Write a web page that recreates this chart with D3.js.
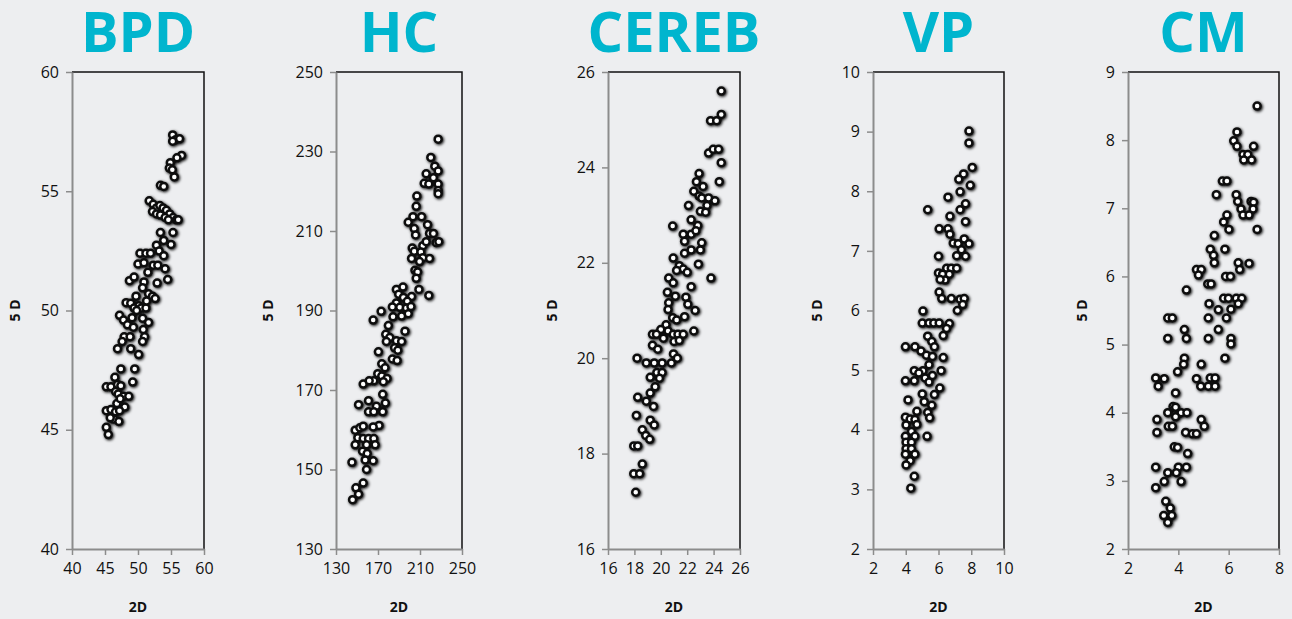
<!DOCTYPE html>
<html lang="en">
<head>
<meta charset="UTF-8">
<title>2D vs 5D measurements</title>
<script src="https://d3js.org/d3.v7.min.js"></script>
<style>
    body { margin: 0; background: #edeef0; font-family: "Open Sans", Arial, sans-serif; }
    .title { font-size: 56px; font-weight: bold; fill: #00b5ce; text-anchor: middle; }
    .tick text { font-family: "Open Sans", Arial, sans-serif; font-size: 16px; fill: #111; }
    .axis-label { font-size: 14px; font-weight: bold; fill: #111; text-anchor: middle; }
</style>
</head>
<body>
<script>
    // BPD
    const bpdX = [55.25, 55.7, 56.3, 55.25, 56.6, 55.9, 54.9, 54.75, 55.2, 55.5, 53.4, 53.9, 51.7, 52.3, 52.8, 53.3, 53.8, 54.3, 54.8, 55.3, 55.8, 56.1,
        52.2, 52.8, 53.4, 54.1, 54.6, 53.4, 55.3, 52.8, 53.9, 55.0, 53.2, 53.9, 50.3, 51.2, 51.9, 50.0, 50.9, 52.3, 51.5, 54.1, 53.0, 48.7, 49.4, 50.9,
        52.9, 54.5, 50.7, 51.6, 52.2, 52.6, 48.2, 48.9, 49.7, 50.1, 50.5, 51.2, 49.4, 47.2, 47.8, 48.4, 49.1, 50.7, 51.6, 50.8, 47.9, 48.8, 51.0, 46.9,
        47.6, 48.9, 50.7, 50.1, 47.4, 49.5, 49.2, 46.5, 45.2, 45.9, 46.9, 47.4, 46.6, 47.0, 47.8, 48.6, 46.8, 48.0, 45.2, 45.9, 46.6, 47.2, 46.3, 47.1,
        45.2, 45.5, 45.8, 47.3, 49.8, 51.3, 49.3];
    const bpdY = [57.36, 57.16, 57.2, 57.1, 56.5, 56.4, 56.2, 55.97, 55.9, 55.6, 55.25, 55.2, 54.6, 54.45, 54.3, 54.4, 54.3, 54.2, 54.05, 53.9, 53.8, 53.8,
        54.15, 54.05, 54.0, 53.9, 53.8, 53.27, 53.27, 52.74, 52.94, 52.77, 52.5, 52.3, 52.4, 52.4, 52.4, 51.95, 52.0, 51.9, 51.6, 51.75, 51.9, 51.25, 51.4, 51.2,
        51.15, 51.3, 50.95, 50.7, 50.6, 50.5, 50.33, 50.3, 50.6, 50.2, 50.1, 50.1, 50.1, 49.8, 49.6, 49.4, 49.7, 49.67, 49.5, 49.2, 48.9, 48.9, 48.9, 48.4,
        48.7, 48.4, 48.7, 48.15, 47.55, 47.55, 47.0, 47.2, 46.8, 46.8, 46.9, 46.85, 46.6, 46.5, 46.4, 46.4, 46.1, 45.95, 45.8, 45.85, 45.75, 45.8, 45.45, 45.35,
        45.1, 44.8, 45.5, 46.3, 50.0, 50.4, 49.3];

    // HC
    const hcX = [227.3, 220.3, 215.9, 224.1, 227.3, 222.8, 214.0, 218.4, 227.3, 227.3, 227.3, 207.0, 206.4, 203.3, 211.5, 198.8, 204.5, 205.8, 217.2, 219.1,
        222.8, 225.4, 227.9, 212.7, 215.9, 202.6, 204.5, 202.0, 210.8, 212.7, 219.1, 209.6, 205.2, 207.7, 206.4, 209.0, 218.4, 202.0, 187.5, 193.8, 189.7,
        194.2, 197.9, 187.5, 190.7, 197.0, 201.4, 183.7, 192.5, 198.8, 184.3, 173.0, 165.4, 179.9, 195.7, 177.4, 181.2, 187.5, 192.5, 178.0, 185.8, 188.9,
        170.4, 183.7, 188.2, 173.6, 176.7, 169.8, 173.6, 178.6, 166.0, 155.9, 161.6, 175.1, 174.5, 177.0, 161.0, 151.5, 168.5, 174.5, 161.0, 166.0, 171.0,
        165.4, 148.3, 152.7, 155.9, 150.8, 155.9, 161.0, 166.0, 159.1, 167.3, 148.3, 155.3, 159.7, 157.8, 165.4, 145.2, 159.1, 155.9, 149.0, 151.5, 145.8];
    const hcY = [233.1, 228.5, 224.4, 226.3, 225.1, 223.4, 222.0, 221.8, 221.8, 220.2, 219.4, 218.8, 216.2, 213.6, 213.6, 212.2, 210.6, 209.0, 211.6, 209.4,
        209.4, 207.1, 207.3, 206.3, 207.3, 205.7, 204.9, 203.1, 204.7, 203.3, 203.1, 202.3, 200.1, 199.7, 198.1, 195.3, 193.8, 193.5, 195.3, 195.9, 194.1,
        193.3, 192.3, 191.9, 190.8, 190.6, 191.0, 190.9, 188.6, 189.2, 188.4, 189.8, 187.6, 186.2, 184.8, 184.0, 183.2, 182.4, 182.2, 182.2, 180.6, 180.0,
        179.6, 177.8, 177.4, 176.6, 175.6, 174.1, 173.5, 172.9, 172.3, 171.5, 172.3, 172.1, 168.9, 166.7, 167.3, 166.3, 165.9, 164.5, 164.5, 164.5, 161.1,
        160.7, 159.9, 160.5, 160.9, 158.0, 157.8, 157.8, 157.8, 156.2, 156.2, 156.2, 154.6, 154.0, 152.4, 152.2, 151.8, 150.0, 146.6, 145.4, 143.8, 142.4];

    // CEREB
    const cerebX = [24.58, 24.58, 23.77, 24.23, 23.62, 23.97, 24.38, 24.58, 24.43, 22.9, 22.7, 23.2, 22.5, 22.9, 23.1, 23.62, 22.1, 23.5, 24.1, 23.0, 23.4,
        22.3, 20.9, 22.8, 21.7, 22.3, 22.66, 21.8, 23.1, 22.3, 23.0, 20.94, 21.8, 22.85, 21.4, 21.7, 21.2, 22.0, 20.6, 20.94, 22.3, 23.8, 20.5, 21.1, 21.9,
        22.05, 20.6, 22.6, 20.55, 20.9, 21.8, 21.2, 20.4, 20.0, 20.55, 22.5, 20.94, 21.3, 21.7, 19.37, 19.67, 20.2, 21.0, 21.4, 19.37, 19.77, 20.96, 21.25,
        20.8, 18.2, 18.9, 19.5, 20.1, 19.7, 20.1, 19.2, 19.9, 19.57, 19.2, 18.25, 18.9, 19.45, 18.15, 19.2, 19.5, 18.6, 18.86, 19.16, 17.95, 18.25, 18.6,
        17.95, 18.4, 18.1];
    const cerebY = [25.6, 25.11, 24.98, 24.98, 24.3, 24.38, 24.38, 24.1, 23.7, 23.87, 23.7, 23.6, 23.5, 23.4, 23.36, 23.36, 23.2, 23.2, 23.3, 23.08, 23.06,
        22.9, 22.77, 22.78, 22.6, 22.6, 22.67, 22.45, 22.42, 22.27, 22.27, 22.1, 22.2, 21.97, 21.94, 21.87, 21.84, 21.8, 21.68, 21.58, 21.5, 21.68, 21.38,
        21.3, 21.28, 21.13, 21.16, 21.0, 21.02, 20.85, 20.87, 20.8, 20.7, 20.6, 20.57, 20.57, 20.5, 20.5, 20.5, 20.5, 20.5, 20.42, 20.35, 20.37, 20.27,
        20.19, 20.09, 20.0, 19.9, 20.0, 19.9, 19.9, 19.9, 19.7, 19.7, 19.6, 19.58, 19.4, 19.27, 19.18, 19.1, 18.99, 18.8, 18.7, 18.6, 18.5, 18.38, 18.3,
        18.16, 18.16, 17.78, 17.58, 17.58, 17.19];

    // VP
    const vpX = [7.86, 7.86, 8.06, 7.53, 7.24, 7.94, 7.32, 6.58, 5.34, 7.65, 7.32, 6.7, 7.65, 6.04, 6.58, 6.7, 7.57, 6.9, 7.2, 7.86, 7.4, 7.11, 6.0, 7.65,
        6.5, 6.78, 7.11, 6.0, 6.25, 6.66, 6.4, 6.1, 6.04, 6.2, 6.78, 7.32, 7.57, 7.48, 7.15, 5.05, 5.01, 5.42, 5.71, 6.04, 6.66, 6.49, 6.29, 5.34, 5.59,
        5.75, 3.98, 4.56, 4.93, 5.26, 5.63, 6.29, 4.52, 5.42, 6.16, 5.05, 3.98, 4.52, 5.18, 5.42, 5.63, 4.8, 6.08, 5.75, 5.01, 4.14, 5.13, 5.59, 5.34,
        5.46, 4.68, 3.98, 4.27, 4.56, 4.68, 4.02, 4.35, 3.98, 4.56, 5.3, 4.02, 4.35, 4.02, 4.35, 3.98, 4.56, 4.27, 4.02, 4.52, 4.31];
    const vpY = [9.01, 8.81, 8.4, 8.29, 8.2, 8.1, 7.99, 7.9, 7.69, 7.79, 7.69, 7.58, 7.49, 7.37, 7.37, 7.28, 7.2, 7.13, 7.12, 7.12, 7.02, 6.92, 6.91, 6.91,
        6.71, 6.71, 6.71, 6.63, 6.61, 6.61, 6.51, 6.52, 6.31, 6.2, 6.2, 6.19, 6.2, 6.1, 6.0, 5.99, 5.79, 5.79, 5.79, 5.79, 5.78, 5.7, 5.58, 5.57, 5.48,
        5.39, 5.39, 5.39, 5.32, 5.25, 5.23, 5.21, 4.99, 5.09, 4.99, 4.99, 4.82, 4.82, 4.87, 4.8, 4.91, 4.95, 4.7, 4.59, 4.6, 4.5, 4.47, 4.41, 4.29,
        4.2, 4.31, 4.21, 4.18, 4.17, 4.09, 4.08, 3.97, 3.89, 3.89, 3.89, 3.79, 3.79, 3.68, 3.68, 3.59, 3.59, 3.48, 3.41, 3.22, 3.02];

    // CM
    const cmX = [7.13, 6.33, 6.2, 6.33, 6.99, 6.57, 6.76, 6.6, 6.91, 5.75, 5.93, 5.51, 6.3, 6.36, 6.89, 6.99, 6.49, 6.97, 6.57, 6.81, 5.93, 5.8, 6.01,
        7.13, 5.43, 5.85, 5.27, 5.4, 5.43, 6.38, 6.81, 6.44, 4.72, 4.91, 4.8, 5.88, 6.07, 5.17, 5.3, 4.32, 5.8, 5.99, 6.3, 6.52, 6.38, 6.09, 5.22, 5.59,
        5.91, 5.19, 3.58, 3.76, 5.59, 4.24, 3.58, 4.32, 5.19, 6.09, 6.09, 4.24, 4.21, 5.85, 4.91, 3.97, 3.1, 3.44, 4.72, 5.27, 5.46, 3.2, 4.89, 5.19,
        5.46, 3.89, 3.79, 3.89, 3.58, 4.11, 4.34, 3.89, 3.15, 4.91, 3.6, 3.76, 5.03, 3.15, 4.29, 4.56, 4.72, 3.84, 3.97, 4.37, 3.1, 4.0, 4.32, 3.92,
        3.58, 3.44, 4.11, 3.1, 3.5, 3.68, 3.42, 3.74, 3.58];
    const cmY = [8.5, 8.12, 7.99, 7.91, 7.91, 7.79, 7.79, 7.71, 7.71, 7.4, 7.4, 7.2, 7.2, 7.1, 7.1, 7.09, 6.99, 6.99, 6.9, 6.9, 6.9, 6.8, 6.69, 6.69, 6.6,
        6.4, 6.4, 6.31, 6.2, 6.2, 6.19, 6.1, 6.1, 6.1, 6.02, 6.0, 6.0, 5.89, 5.89, 5.8, 5.68, 5.68, 5.68, 5.68, 5.6, 5.52, 5.6, 5.51, 5.39, 5.39, 5.39,
        5.39, 5.22, 5.22, 5.09, 5.09, 5.09, 5.09, 5.01, 4.8, 4.71, 4.8, 4.71, 4.6, 4.51, 4.5, 4.5, 4.51, 4.51, 4.39, 4.39, 4.39, 4.39, 4.29, 4.09, 4.08,
        4.0, 4.0, 4.0, 3.94, 3.9, 3.9, 3.8, 3.8, 3.8, 3.71, 3.71, 3.69, 3.69, 3.5, 3.49, 3.4, 3.2, 3.2, 3.2, 3.12, 3.12, 2.99, 2.99, 2.9, 2.7, 2.6, 2.49,
        2.49, 2.39];

    const titles = ["BPD", "HC", "CEREB", "VP", "CM"];
    const xDomains = [[40, 60], [130, 250], [16, 26], [2, 10], [2, 8]];
    const yDomains = [[40, 60], [130, 250], [16, 26], [2, 10], [2, 9]];
    const xTickValues = [[40, 45, 50, 55, 60], [130, 170, 210, 250], [16, 18, 20, 22, 24, 26], [2, 4, 6, 8, 10], [2, 4, 6, 8]];
    const yTickValues = [[40, 45, 50, 55, 60], [130, 150, 170, 190, 210, 230, 250], [16, 18, 20, 22, 24, 26], [2, 3, 4, 5, 6, 7, 8, 9, 10], [2, 3, 4, 5, 6, 7, 8, 9]];
    const xData = [bpdX, hcX, cerebX, vpX, cmX];
    const yData = [bpdY, hcY, cerebY, vpY, cmY];

    // plot boxes (left, right) in px; top/bottom shared
    const boxes = [[72, 204], [336, 462], [608, 740], [873, 1004], [1128, 1279]];
    const labelOffsets = [57, 68, 56, 56, 46];
    const plotTop = 72, plotBottom = 549;
    const fmt = d3.format("d");

    const svg = d3.select("body").append("svg")
        .attr("width", 1292)
        .attr("height", 619);

    // soft shadow for the markers
    const filter = svg.append("defs").append("filter")
        .attr("id", "shadow")
        .attr("x", "-100%").attr("y", "-100%")
        .attr("width", "300%").attr("height", "300%");
    filter.append("feGaussianBlur").attr("in", "SourceAlpha").attr("stdDeviation", 1.5).attr("result", "blur");
    filter.append("feOffset").attr("in", "blur").attr("dx", 0.5).attr("dy", 1).attr("result", "off");
    const merge = filter.append("feMerge");
    merge.append("feMergeNode").attr("in", "off");
    merge.append("feMergeNode").attr("in", "SourceGraphic");

    titles.forEach((title, i) => {
        const [left, right] = boxes[i];
        const x = d3.scaleLinear().domain(xDomains[i]).range([left, right]);
        const y = d3.scaleLinear().domain(yDomains[i]).range([plotBottom, plotTop]);
        const g = svg.append("g");

        g.append("text")
            .attr("class", "title")
            .attr("x", (left + right) / 2)
            .attr("y", 52)
            .text(title);

        // top and right border (black)
        g.append("path")
            .attr("d", `M${left},${plotTop}H${right}V${plotBottom}`)
            .attr("fill", "none")
            .attr("stroke", "#111")
            .attr("stroke-width", 1.5);

        const yAxis = g.append("g")
            .attr("transform", `translate(${left},0)`)
            .call(d3.axisLeft(y).tickValues(yTickValues[i]).tickFormat(fmt).tickSize(6).tickSizeOuter(0).tickPadding(7));

        const xAxis = g.append("g")
            .attr("transform", `translate(0,${plotBottom})`)
            .call(d3.axisBottom(x).tickValues(xTickValues[i]).tickFormat(fmt).tickSize(6).tickSizeOuter(0).tickPadding(8));

        [yAxis, xAxis].forEach(a => {
            a.select(".domain").attr("stroke", "#8c8c8c").attr("stroke-width", 2);
            a.selectAll(".tick line").attr("stroke", "#8c8c8c").attr("stroke-width", 1.5);
        });

        g.append("text")
            .attr("class", "axis-label")
            .attr("transform", `translate(${left - labelOffsets[i]},${(plotTop + plotBottom) / 2}) rotate(-90)`)
            .attr("dy", "0.35em")
            .text("5 D");

        g.append("text")
            .attr("class", "axis-label")
            .attr("x", (left + right) / 2)
            .attr("y", 612)
            .text("2D");

        const pts = xData[i].map((v, k) => [v, yData[i][k]]);
        g.append("g")
            .attr("filter", "url(#shadow)")
            .selectAll("circle")
            .data(pts)
            .join("circle")
            .attr("cx", d => x(d[0]))
            .attr("cy", d => y(d[1]))
            .attr("r", 3.5)
            .attr("fill", "#fff")
            .attr("stroke", "#111")
            .attr("stroke-width", 2.5);
    });
</script>
</body>
</html>
